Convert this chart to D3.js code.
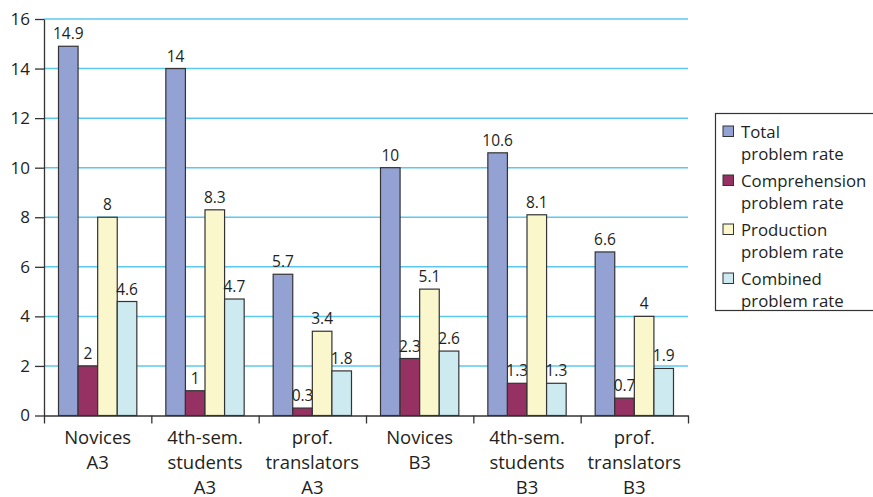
<!DOCTYPE html>
<html>
<head>
<meta charset="utf-8">
<script src="https://cdn.jsdelivr.net/npm/d3@7"></script>
<style>
  body { margin: 0; background: #fff; }
  svg text { font-family: "Open Sans", sans-serif; fill: #231f20; }
</style>
</head>
<body>
<svg></svg>
<script>
let width = 873;
let height = 497;

// data
let groups = ["Novices|A3", "4th-sem.|students|A3", "prof.|translators|A3",
              "Novices|B3", "4th-sem.|students|B3", "prof.|translators|B3"];
let series = ["Total|problem rate", "Comprehension|problem rate",
              "Production|problem rate", "Combined|problem rate"];
let totalRate = [14.9, 14, 5.7, 10, 10.6, 6.6];
let comprehensionRate = [2, 1, 0.3, 2.3, 1.3, 0.7];
let productionRate = [8, 8.3, 3.4, 5.1, 8.1, 4];
let combinedRate = [4.6, 4.7, 1.8, 2.6, 1.3, 1.9];
let yTicks = [0, 2, 4, 6, 8, 10, 12, 14, 16];
let colors = ["#94a1d3", "#963263", "#f9f7cb", "#cdeaf0"];

let values = [totalRate, comprehensionRate, productionRate, combinedRate];

let plotLeft = 44, plotRight = 688, plotTop = 19, plotBottom = 415.5;

let svg = d3.select('svg').attr('width', width).attr('height', height);

let x0 = d3.scaleBand().domain(groups).range([plotLeft, plotRight]);
let x1 = d3.scaleBand().domain(series).range([14.5, x0.bandwidth() - 14.5]);
let y = d3.scaleLinear().domain([0, 16]).range([plotBottom, plotTop]);

// gridlines
svg.append('g')
    .selectAll('line')
    .data(yTicks.filter(d => d > 0))
    .join('line')
    .attr('x1', plotLeft).attr('x2', plotRight)
    .attr('y1', d => y(d)).attr('y2', d => y(d))
    .attr('stroke', '#5cc8ef')
    .attr('stroke-width', 1.5);

// bars
let bars = svg.append('g');
groups.forEach((g, i) => {
    series.forEach((s, j) => {
        let v = values[j][i];
        bars.append('rect')
            .attr('x', x0(g) + x1(s))
            .attr('y', y(v))
            .attr('width', x1.bandwidth())
            .attr('height', y(0) - y(v))
            .attr('fill', colors[j])
            .attr('stroke', '#333')
            .attr('stroke-width', 1.2);
        bars.append('text')
            .attr('x', x0(g) + x1(s) + x1.bandwidth() / 2)
            .attr('y', y(v) - 7)
            .attr('text-anchor', 'middle')
            .attr('font-size', '15.5px')
            .text(v);
    });
});

// y axis
let yAxis = d3.axisLeft(y).tickValues(yTicks).tickSize(9).tickSizeOuter(0).tickPadding(5);
let ya = svg.append('g')
    .attr('transform', 'translate(' + plotLeft + ', 0)')
    .call(yAxis);
ya.selectAll('text').attr('font-size', '17px').attr('font-family', '"Open Sans", sans-serif');
ya.selectAll('line, path').attr('stroke', '#333').attr('stroke-width', 1.3);

// x axis, ticks sit between the groups
let xIdx = d3.scaleLinear().domain([0, groups.length]).range([plotLeft, plotRight]);
let xAxis = d3.axisBottom(xIdx).tickValues(d3.range(groups.length + 1)).tickSize(8).tickSizeOuter(0).tickFormat('');
let xa = svg.append('g')
    .attr('transform', 'translate(0, ' + plotBottom + ')')
    .call(xAxis);
xa.selectAll('line, path').attr('stroke', '#333').attr('stroke-width', 1.3);

// category labels
groups.forEach(g => {
    let t = svg.append('text')
        .attr('text-anchor', 'middle')
        .attr('font-size', '18.5px');
    g.split('|').forEach((line, k) => {
        t.append('tspan')
            .attr('x', x0(g) + x0.bandwidth() / 2)
            .attr('y', 443.5 + k * 25)
            .text(line);
    });
});

// legend
let legend = svg.append('g');
legend.append('rect')
    .attr('x', 715.5).attr('y', 113.5)
    .attr('width', 170).attr('height', 197)
    .attr('fill', '#fff').attr('stroke', '#333').attr('stroke-width', 1.2);
series.forEach((s, j) => {
    let base = 138 + j * 49;
    legend.append('rect')
        .attr('x', 723).attr('y', base - 12)
        .attr('width', 10.5).attr('height', 10.5)
        .attr('fill', colors[j]).attr('stroke', '#333').attr('stroke-width', 1);
    s.split('|').forEach((line, k) => {
        legend.append('text')
            .attr('x', 741)
            .attr('y', base + k * 21.5)
            .attr('font-size', '16.8px')
            .text(line);
    });
});
</script>
</body>
</html>
